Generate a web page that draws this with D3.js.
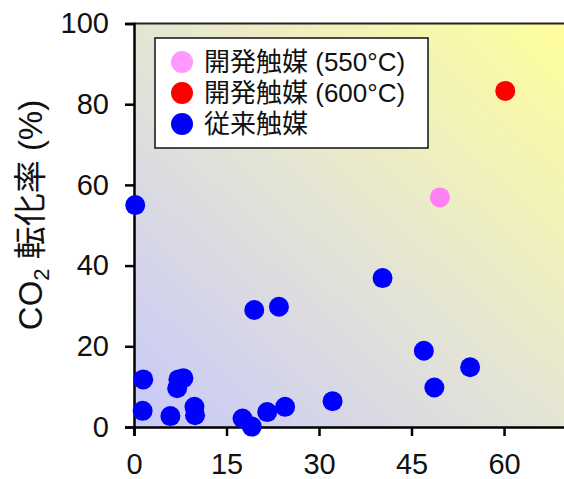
<!DOCTYPE html>
<html>
<head>
<meta charset="utf-8">
<script src="https://cdn.jsdelivr.net/npm/d3@7"></script>
<style>
  html, body { margin: 0; padding: 0; background: #fff; }
  svg { display: block; }
  text { font-family: "Liberation Sans", Arial, "Noto Sans CJK JP", sans-serif; fill: #111; }
</style>
</head>
<body>
<svg id="chart" width="564" height="479"></svg>
<script>
// ---- data ----
const legendLabels = ["開発触媒 (550°C)", "開発触媒 (600°C)", "従来触媒"];
const xTicks = [0, 15, 30, 45, 60];
const yTicks = [0, 20, 40, 60, 80, 100];
const conventionalX = [0.2, 1.5, 1.4, 5.9, 7.2, 8.0, 7.0, 9.8, 9.9, 17.6, 19.1, 21.6, 24.5, 19.5, 23.5, 32.2, 40.3, 47.0, 48.7, 54.5];
const conventionalY = [55.0, 11.8, 4.0, 2.7, 11.8, 12.1, 9.6, 5.0, 2.9, 2.1, 0.1, 3.7, 5.0, 29.0, 29.8, 6.4, 36.9, 18.9, 9.8, 14.8];
const dev550X = [49.6];
const dev550Y = [56.9];
const dev600X = [60.2];
const dev600Y = [83.3];

// ---- layout ----
const svg = d3.select("#chart");
const x = d3.scaleLinear().domain([0, 70]).range([134, 565.7]);
const y = d3.scaleLinear().domain([0, 100]).range([427, 23.5]);

const defs = svg.append("defs");
const grad = defs.append("linearGradient").attr("id", "bg")
  .attr("x1", 0).attr("y1", 1).attr("x2", 1).attr("y2", 0);
grad.append("stop").attr("offset", "0%").attr("stop-color", "#c8c8fa");
grad.append("stop").attr("offset", "50%").attr("stop-color", "#e5e5d4");
grad.append("stop").attr("offset", "100%").attr("stop-color", "#ffff9c");

svg.append("rect")
  .attr("x", x(0)).attr("y", y(100))
  .attr("width", x(70) - x(0)).attr("height", y(0) - y(100))
  .attr("fill", "url(#bg)");

// top frame line
svg.append("line")
  .attr("x1", x(0)).attr("x2", x(70)).attr("y1", y(100)).attr("y2", y(100))
  .attr("stroke", "#222").attr("stroke-width", 2);

// axes
const xAxis = svg.append("g").attr("transform", `translate(0,${y(0)})`)
  .call(d3.axisBottom(x).tickValues(xTicks).tickSize(9).tickPadding(17).tickFormat(d3.format("d")));
const yAxis = svg.append("g").attr("transform", `translate(${x(0)},0)`)
  .call(d3.axisLeft(y).tickValues(yTicks).tickSize(9).tickPadding(16).tickFormat(d3.format("d")));
[xAxis, yAxis].forEach(g => {
  g.select(".domain").attr("stroke", "#000").attr("stroke-width", 2.5);
  g.selectAll(".tick line").attr("stroke", "#000").attr("stroke-width", 2.5);
  g.selectAll(".tick text").attr("font-size", 29).attr("fill", "#111")
    .attr("font-family", "'Liberation Sans', Arial, sans-serif");
});

// y label
const yl = svg.append("text")
  .attr("transform", `translate(42,215) rotate(-90)`)
  .attr("text-anchor", "middle")
  .attr("font-size", 33);
yl.append("tspan").text("CO");
yl.append("tspan").attr("font-size", 22).attr("dy", 7).text("2");
yl.append("tspan").attr("dy", -7).text(" 転化率 (%)");

// points
const r = 10;
const pts = svg.append("g");
pts.selectAll("circle.conv").data(d3.zip(conventionalX, conventionalY)).join("circle")
  .attr("class", "conv").attr("cx", d => x(d[0])).attr("cy", d => y(d[1])).attr("r", r)
  .attr("fill", "#0000ff");
pts.selectAll("circle.d550").data(d3.zip(dev550X, dev550Y)).join("circle")
  .attr("class", "d550").attr("cx", d => x(d[0])).attr("cy", d => y(d[1])).attr("r", r)
  .attr("fill", "#ff80f4");
pts.selectAll("circle.d600").data(d3.zip(dev600X, dev600Y)).join("circle")
  .attr("class", "d600").attr("cx", d => x(d[0])).attr("cy", d => y(d[1])).attr("r", r)
  .attr("fill", "#ff0000");

// legend
const lg = svg.append("g");
lg.append("rect").attr("x", 155).attr("y", 38).attr("width", 273).attr("height", 110)
  .attr("fill", "#fff").attr("stroke", "#111").attr("stroke-width", 1.5);
const legendColors = ["#ff99ff", "#ff0000", "#0000ff"];
legendLabels.forEach((t, i) => {
  const cy = 62 + i * 31;
  lg.append("circle").attr("cx", 182).attr("cy", cy).attr("r", 11).attr("fill", legendColors[i]);
  lg.append("text").attr("x", 204).attr("y", cy).attr("dy", "0.36em")
    .attr("font-size", 26).attr("fill", "#222").text(t);
});
</script>
</body>
</html>
